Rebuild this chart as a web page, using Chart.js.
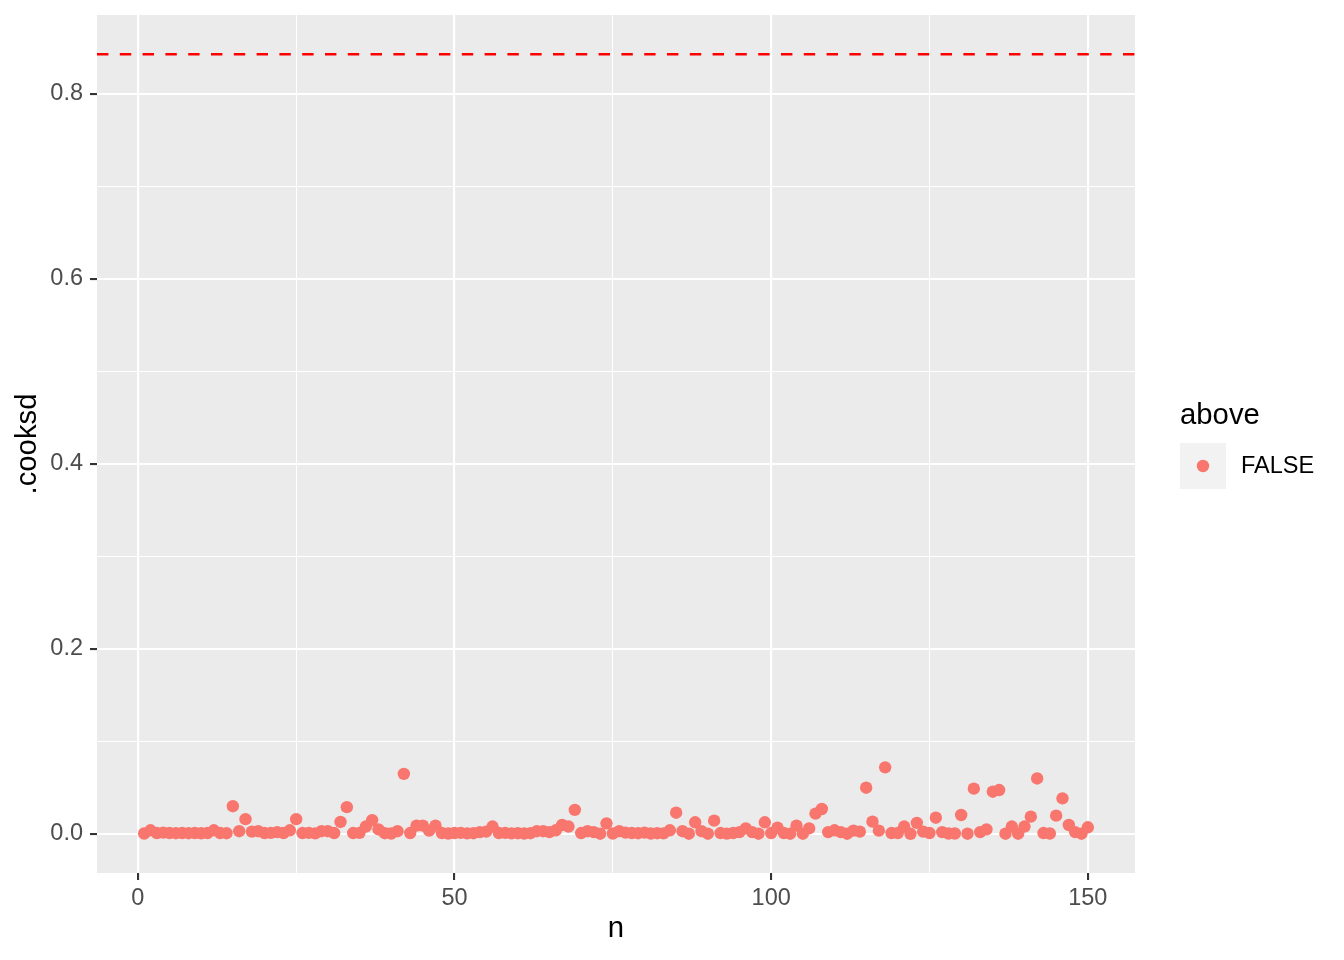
<!DOCTYPE html>
<html>
<head>
<meta charset="utf-8">
<script src="https://cdn.jsdelivr.net/npm/chart.js@4/dist/chart.umd.min.js"></script>
<style>
body{margin:0;background:#fff;}
#wrap{width:1344px;height:960px;}
</style>
</head>
<body>
<div id="wrap"><canvas id="myChart" width="1344" height="960"></canvas></div>
<script>
'use strict';
// observation index n = 1..150
let nValues = [];
for (let i = 1; i <= 150; i++) { nValues.push(i); }

let cooksd = [
  0.0005, 0.004, 0.001, 0.0015, 0.001, 0.0008, 0.001, 0.0008, 0.001, 0.0007,
  0.001, 0.004, 0.001, 0.0008, 0.030, 0.003, 0.016, 0.0025, 0.003, 0.001,
  0.0012, 0.002, 0.001, 0.004, 0.016, 0.001, 0.0012, 0.0006, 0.003, 0.003,
  0.001, 0.013, 0.029, 0.001, 0.0012, 0.008, 0.015, 0.005, 0.0008, 0.0005,
  0.003, 0.065, 0.001, 0.009, 0.009, 0.0036, 0.009, 0.001, 0.0005, 0.001,
  0.0012, 0.0006, 0.0008, 0.002, 0.0025, 0.008, 0.001, 0.0012, 0.0006, 0.0008,
  0.0005, 0.0008, 0.003, 0.003, 0.002, 0.004, 0.0097, 0.008, 0.026, 0.001,
  0.003, 0.002, 0.0003, 0.0115, 0.0005, 0.003, 0.0015, 0.001, 0.0008, 0.0015,
  0.0005, 0.0008, 0.0006, 0.004, 0.023, 0.003, 0.0003, 0.0126, 0.003, 0.0003,
  0.0144, 0.001, 0.0004, 0.001, 0.002, 0.006, 0.002, 0.0003, 0.0126, 0.001,
  0.0068, 0.001, 0.0003, 0.009, 0.0003, 0.006, 0.022, 0.027, 0.002, 0.004,
  0.002, 0.0003, 0.0036, 0.0025, 0.050, 0.0133, 0.0036, 0.072, 0.001, 0.001,
  0.008, 0.0002, 0.012, 0.0025, 0.001, 0.0176, 0.002, 0.0005, 0.0005, 0.0205,
  0.0003, 0.049, 0.002, 0.005, 0.0457, 0.0475, 0.0003, 0.008, 0.0003, 0.008,
  0.0187, 0.060, 0.001, 0.0005, 0.0198, 0.0385, 0.0097, 0.002, 0.0003, 0.0072
];

let cutoff = 0.843;
let xTicks = [0, 25, 50, 75, 100, 125, 150];
let xMajor = [0, 50, 100, 150];
let yTicks = [0, 0.1, 0.2, 0.3, 0.4, 0.5, 0.6, 0.7, 0.8];
let yMajor = [0, 0.2, 0.4, 0.6, 0.8];
let legendTitle = 'above';
let legendLabels = ['FALSE'];

let pointColor = '#F8766D';
let fontFam = '"Liberation Sans", Arial, sans-serif';

let points = [];
for (let i = 0; i < nValues.length; i++) {
  points.push({x: nValues[i], y: cooksd[i]});
}

function isMajor(v, list) {
  for (let i = 0; i < list.length; i++) {
    if (Math.abs(v - list[i]) < 1e-9) return true;
  }
  return false;
}

let panelBg = {
  id: 'panelBg',
  beforeDraw(chart) {
    let a = chart.chartArea;
    let ctx = chart.ctx;
    ctx.save();
    ctx.fillStyle = '#EBEBEB';
    ctx.fillRect(a.left, a.top, a.right - a.left, a.bottom - a.top);
    ctx.restore();
  }
};

let cutoffLine = {
  id: 'cutoffLine',
  afterDatasetsDraw(chart) {
    let a = chart.chartArea;
    let ctx = chart.ctx;
    let y = chart.scales.y.getPixelForValue(cutoff);
    ctx.save();
    ctx.strokeStyle = '#FF0000';
    ctx.lineWidth = 2.5;
    ctx.setLineDash([11.4, 11.4]);
    ctx.beginPath();
    ctx.moveTo(a.left, y);
    ctx.lineTo(a.right, y);
    ctx.stroke();
    ctx.restore();
  }
};

let sideLegend = {
  id: 'sideLegend',
  afterDraw(chart) {
    let ctx = chart.ctx;
    ctx.save();
    ctx.fillStyle = '#000000';
    ctx.textAlign = 'left';
    ctx.textBaseline = 'middle';
    ctx.font = '29.3px ' + fontFam;
    ctx.fillText(legendTitle, 1180, 416);
    ctx.fillStyle = '#F2F2F2';
    ctx.fillRect(1180, 443, 46, 46);
    ctx.fillStyle = pointColor;
    ctx.beginPath();
    ctx.arc(1203, 466, 6.2, 0, Math.PI * 2);
    ctx.fill();
    ctx.fillStyle = '#000000';
    ctx.font = '23.5px ' + fontFam;
    ctx.fillText(legendLabels[0], 1241, 467);
    ctx.restore();
  }
};

const data = {
  datasets: [{
    label: legendLabels[0],
    data: points,
    backgroundColor: pointColor,
    borderWidth: 0,
    pointRadius: 6.2,
    pointHoverRadius: 6.2
  }]
};

const config = {
  type: 'scatter',
  data: data,
  options: {
    responsive: false,
    animation: false,
    devicePixelRatio: 1,
    layout: { padding: { top: 15, right: 209, left: 0, bottom: 0 } },
    plugins: { legend: { display: false }, tooltip: { enabled: false } },
    scales: {
      x: {
        type: 'linear',
        min: -6.45,
        max: 157.45,
        afterBuildTicks: (s) => { s.ticks = xTicks.map(v => ({value: v})); },
        afterFit: (s) => { s.height = 87; s.paddingLeft = 0; s.paddingRight = 0; },
        border: { display: false },
        grid: {
          color: '#FFFFFF',
          lineWidth: (c) => (c.tick && isMajor(c.tick.value, xMajor)) ? 2.1 : 1.05,
          tickColor: (c) => (c.tick && isMajor(c.tick.value, xMajor)) ? '#333333' : 'rgba(0,0,0,0)',
          tickWidth: 2.1,
          tickLength: 7
        },
        ticks: {
          autoSkip: false,
          maxRotation: 0,
          padding: 4,
          color: '#4D4D4D',
          font: { family: fontFam, size: 23.5 },
          callback: (v) => isMajor(v, xMajor) ? String(v) : ''
        },
        title: {
          display: true,
          text: 'n',
          color: '#000000',
          font: { family: fontFam, size: 29.3 },
          padding: { top: 0, bottom: 14 }
        }
      },
      y: {
        type: 'linear',
        min: -0.0422,
        max: 0.8854,
        afterBuildTicks: (s) => { s.ticks = yTicks.map(v => ({value: v})); },
        afterFit: (s) => { s.width = 97; s.paddingTop = 0; s.paddingBottom = 0; },
        border: { display: false },
        grid: {
          color: '#FFFFFF',
          lineWidth: (c) => (c.tick && isMajor(c.tick.value, yMajor)) ? 2.1 : 1.05,
          tickColor: (c) => (c.tick && isMajor(c.tick.value, yMajor)) ? '#333333' : 'rgba(0,0,0,0)',
          tickWidth: 2.1,
          tickLength: 7
        },
        ticks: {
          autoSkip: false,
          padding: 7,
          color: '#4D4D4D',
          font: { family: fontFam, size: 23.5 },
          callback: (v) => isMajor(v, yMajor) ? v.toFixed(1) : ''
        },
        title: {
          display: true,
          text: '.cooksd',
          color: '#000000',
          font: { family: fontFam, size: 29.3 },
          padding: { top: 10, bottom: 0 }
        }
      }
    }
  },
  plugins: [panelBg, cutoffLine, sideLegend]
};

let myChart = new Chart(document.getElementById('myChart'), config);
</script>
</body>
</html>
